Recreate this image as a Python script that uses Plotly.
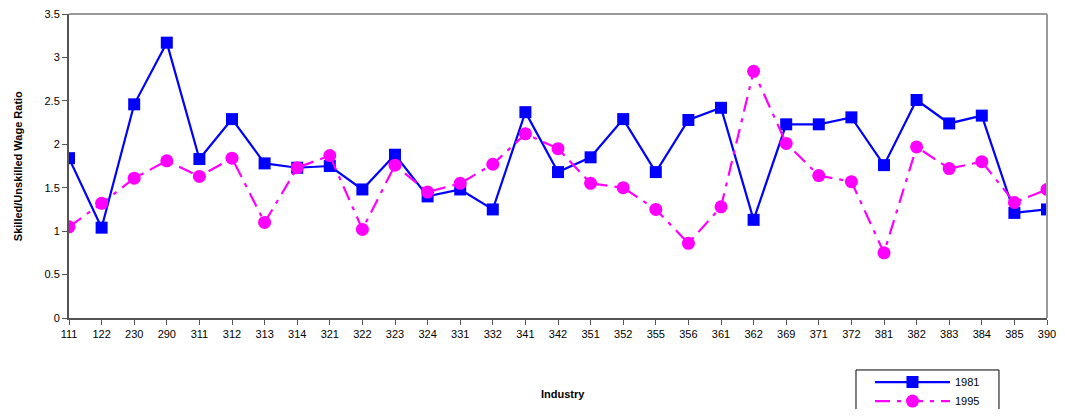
import plotly.graph_objects as go

industries = ["111", "122", "230", "290", "311", "312", "313", "314", "321", "322",
              "323", "324", "331", "332", "341", "342", "351", "352", "355", "356",
              "361", "362", "369", "371", "372", "381", "382", "383", "384", "385", "390"]

ratio_1981 = [1.84, 1.04, 2.46, 3.17, 1.83, 2.29, 1.78, 1.73, 1.75, 1.48,
              1.88, 1.40, 1.48, 1.25, 2.37, 1.68, 1.85, 2.29, 1.68, 2.28,
              2.42, 1.13, 2.23, 2.23, 2.31, 1.76, 2.51, 2.24, 2.33, 1.21, 1.25]
ratio_1995 = [1.05, 1.32, 1.61, 1.81, 1.63, 1.84, 1.10, 1.73, 1.87, 1.02,
              1.76, 1.45, 1.55, 1.77, 2.12, 1.95, 1.55, 1.50, 1.25, 0.86,
              1.28, 2.84, 2.01, 1.64, 1.57, 0.75, 1.97, 1.72, 1.80, 1.33, 1.48]

y_ticks = [0, 0.5, 1, 1.5, 2, 2.5, 3, 3.5]
y_tick_labels = ["0", "0.5", "1", "1.5", "2", "2.5", "3", "3.5"]

font = "Liberation Sans, Arial, sans-serif"

fig = go.Figure()
fig.add_trace(go.Scatter(
    x=industries, y=ratio_1981, name="1981", mode="lines+markers",
    line=dict(color="#0000FF", width=2.2),
    marker=dict(symbol="square", size=12, color="#0000FF"),
))
fig.add_trace(go.Scatter(
    x=industries, y=ratio_1995, name="1995", mode="lines+markers",
    line=dict(color="#FF00FF", width=2.2, dash="15px,7px,4px,7px"),
    marker=dict(symbol="circle", size=13, color="#FF00FF"),
))

# page body has an 8px default margin; figure is sized to fit the window
fig.update_layout(
    width=1049, height=401,
    margin=dict(l=61, r=10, t=6, b=91, autoexpand=False),
    paper_bgcolor="white", plot_bgcolor="white",
    font=dict(family=font, size=11, color="black"),
    showlegend=True,
    legend=dict(
        x=0.819, y=-0.163, xanchor="left", yanchor="top",
        borderwidth=0, bgcolor="rgba(0,0,0,0)",
        font=dict(size=11), itemwidth=75, tracegroupgap=0,
    ),
    xaxis=dict(
        type="category", range=[0, len(industries) - 1], automargin=False,
        showgrid=False, showline=True, linecolor="#555555", linewidth=2,
        ticks="outside", ticklen=5, tickcolor="#555555",
        tickfont=dict(size=11), zeroline=False, ticklabeloverflow="allow",
    ),
    yaxis=dict(
        range=[0, 3.5], tickvals=y_ticks, ticktext=y_tick_labels, automargin=False,
        showgrid=False, showline=True, linecolor="#555555", linewidth=2,
        ticks="outside", ticklen=5, tickcolor="#555555", zeroline=False,
        tickfont=dict(size=11), ticklabeloverflow="allow",
    ),
    annotations=[
        dict(text="<b>Industry</b>", xref="paper", yref="paper", x=0.505, y=-0.25,
             xanchor="center", yanchor="middle", showarrow=False, font=dict(size=11)),
        dict(text="<b>Skilled/Unskilled Wage Ratio</b>", xref="paper", yref="paper",
             x=-0.052, y=0.5, xanchor="center", yanchor="middle", textangle=-90,
             showarrow=False, font=dict(size=11)),
    ],
    shapes=[
        dict(type="line", xref="paper", yref="paper", x0=0, x1=1, y0=1, y1=1,
             line=dict(color="#999999", width=2)),
        dict(type="line", xref="paper", yref="paper", x0=1, x1=1, y0=0, y1=1,
             line=dict(color="#999999", width=2)),
        # legend frame
        dict(type="rect", xref="paper", yref="paper", x0=0.8047, x1=0.9509,
             y0=-0.171, y1=-0.34, line=dict(color="black", width=1),
             fillcolor="rgba(0,0,0,0)", layer="below"),
    ],
)

fig.write_html("out.html")
